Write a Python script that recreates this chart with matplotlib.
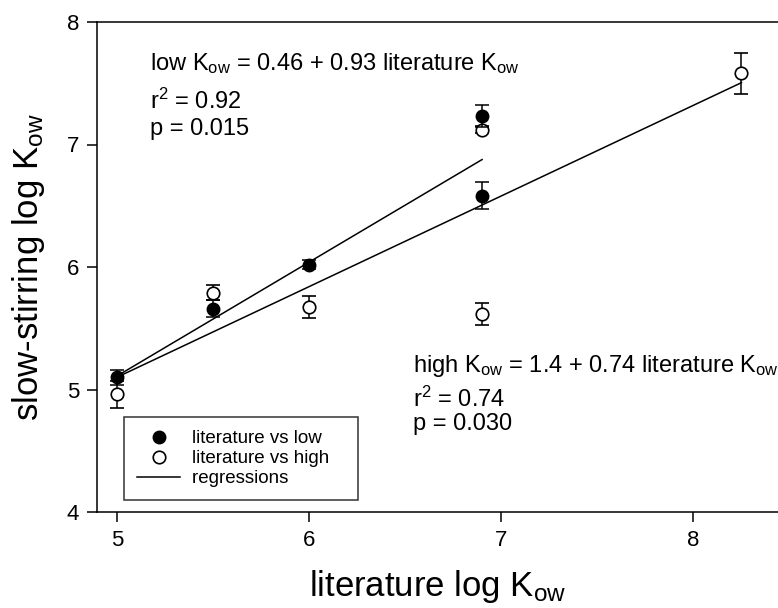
import numpy as np
import matplotlib
matplotlib.use("Agg")
from matplotlib import pyplot as plt

plt.rcParams["font.family"] = ["Liberation Sans", "DejaVu Sans"]
plt.rcParams["mathtext.fontset"] = "custom"
plt.rcParams["mathtext.rm"] = "Liberation Sans"
plt.rcParams["mathtext.it"] = "Liberation Sans:italic"

# literature vs low (filled)
lit_low = [5.0, 5.5, 6.0, 6.9, 6.9]
low_vals = [5.10, 5.66, 6.02, 7.23, 6.58]
low_err = [0.06, 0.07, 0.04, 0.09, 0.11]

# literature vs high (open)
lit_high = [5.0, 5.5, 6.0, 6.9, 6.9, 8.25]
high_vals = [4.96, 5.79, 5.67, 7.12, 5.62, 7.58]
high_err = [0.11, 0.06, 0.09, 0.03, 0.09, 0.17]

# regressions: intercept, slope, x range
low_fit = (0.46, 0.93)
low_range = (5.0, 6.9)
high_fit = (1.4, 0.74)
high_range = (5.0, 8.25)

x_ticks = [5, 6, 7, 8]
y_ticks = [4, 5, 6, 7, 8]

fig = plt.figure(figsize=(7.78, 6.08), dpi=100)
ax = fig.add_axes([97 / 778, 96 / 608, 681 / 778, 490 / 608])

# regression lines
for (b0, b1), (xa, xb) in [(low_fit, low_range), (high_fit, high_range)]:
    xs = np.array([xa, xb])
    ax.plot(xs, b0 + b1 * xs, color="black", lw=1.1, zorder=2)

ax.errorbar(lit_low, low_vals, yerr=low_err, fmt="o", ms=9, mfc="black", mec="black",
            ecolor="black", elinewidth=1.1, capsize=5, capthick=1.1, zorder=4)
ax.errorbar(lit_high, high_vals, yerr=high_err, fmt="o", ms=9, mfc="white", mec="black",
            mew=1.2, ecolor="black", elinewidth=1.1, capsize=5, capthick=1.1, zorder=3)

# legend handles
h1, = ax.plot([], [], "o", ms=9, mfc="black", mec="black")
h2, = ax.plot([], [], "o", ms=9, mfc="white", mec="black", mew=1.2)
h3, = ax.plot([], [], color="black", lw=1.1)
leg = ax.legend([h1, h2, h3], ["literature vs low", "literature vs high", "regressions  "],
                loc="lower left", bbox_to_anchor=(0.04, 0.024), fontsize=13.5,
                frameon=True, fancybox=False, borderpad=0.7, labelspacing=0.15,
                handlelength=2.3, handletextpad=0.6, borderaxespad=0)
leg.get_frame().set_edgecolor("black")
leg.get_frame().set_linewidth(1.1)
leg.get_texts()[1].set_text("literature vs high   ")

# annotations (baseline positions)
fs = 17
ax.text(5.17, 7.61, r"low K$_{\rm ow}$ = 0.46 + 0.93 literature K$_{\rm ow}$", fontsize=fs)
ax.text(5.17, 7.29, r"r$^{2}$ = 0.92", fontsize=fs)
ax.text(5.17, 7.08, "p = 0.015", fontsize=fs)
ax.text(6.54, 5.14, r"high K$_{\rm ow}$ = 1.4 + 0.74 literature K$_{\rm ow}$", fontsize=fs)
ax.text(6.54, 4.86, r"r$^{2}$ = 0.74", fontsize=fs)
ax.text(6.54, 4.67, "p = 0.030", fontsize=fs)

ax.set_xlim(4.896, 8.44)
ax.set_ylim(4, 8)
ax.set_xticks(x_ticks)
ax.set_yticks(y_ticks)
ax.tick_params(direction="out", length=7, width=1.1, labelsize=16, pad=6)
ax.spines["right"].set_visible(False)
for s in ["left", "top", "bottom"]:
    ax.spines[s].set_linewidth(1.1)

ax.set_xlabel(r"literature log K$_{\rm ow}$", fontsize=25, labelpad=12)
ax.set_ylabel(r"slow-stirring log K$_{\rm ow}$", fontsize=25, labelpad=14)

fig.savefig("out.png", dpi=100)
